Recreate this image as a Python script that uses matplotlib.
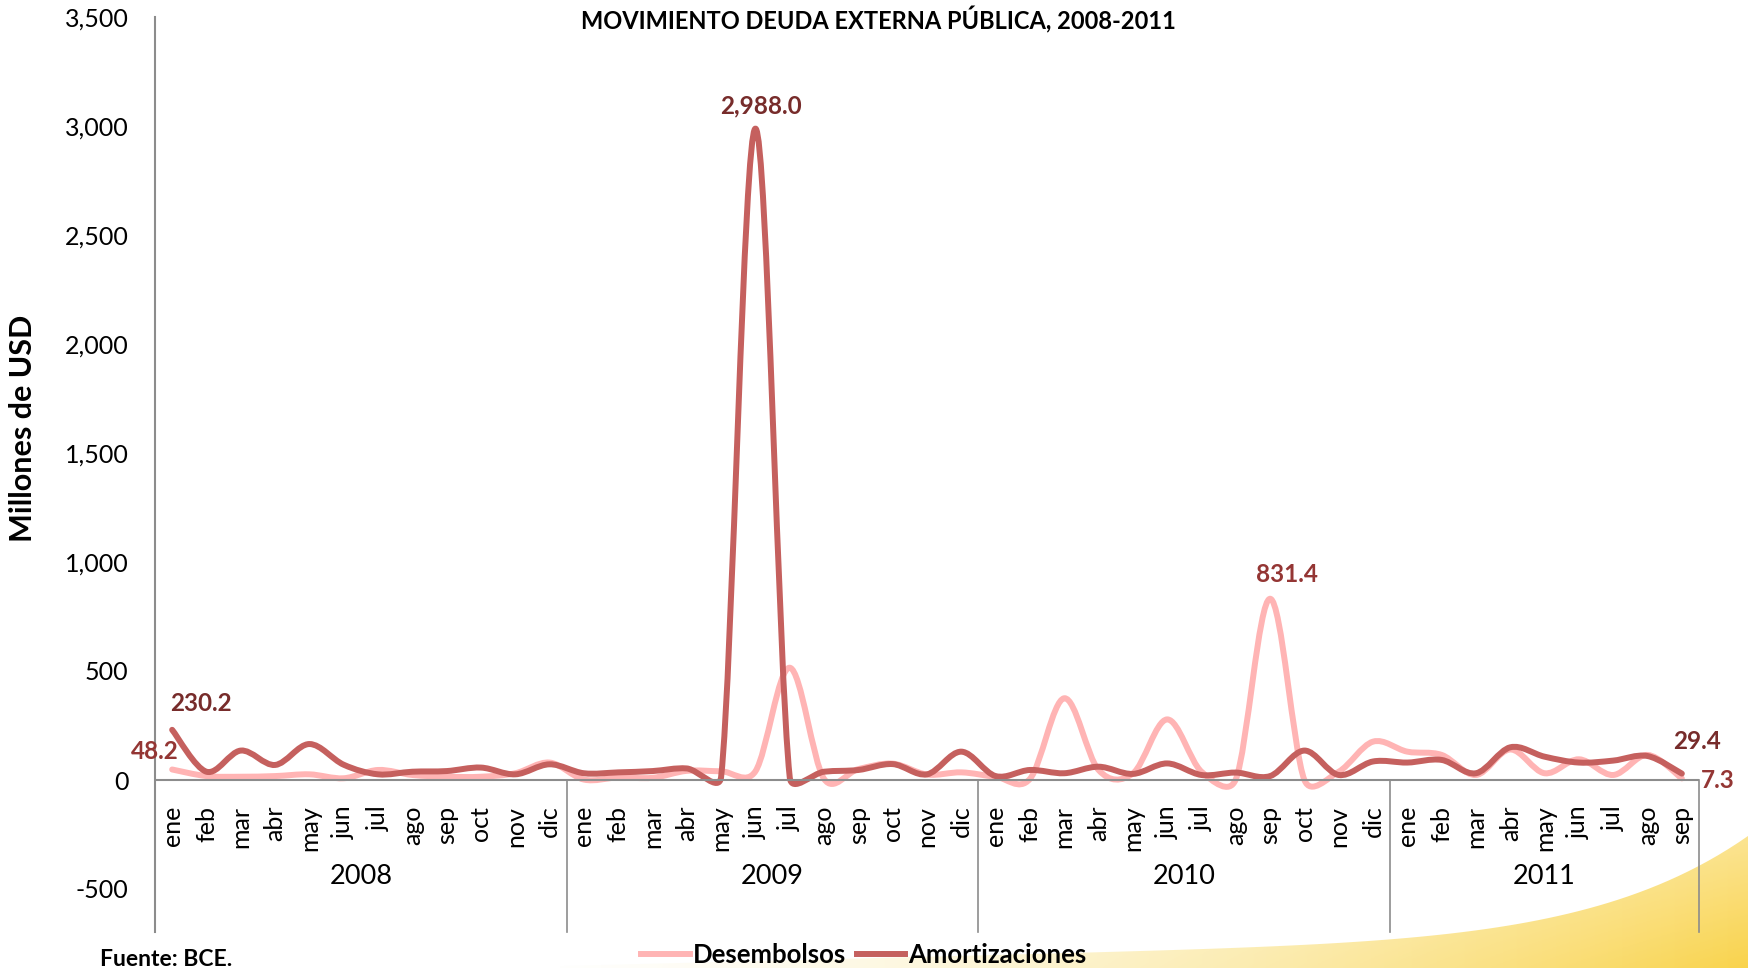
import numpy as np
import matplotlib.pyplot as plt
from matplotlib.path import Path
from matplotlib.patches import PathPatch
from matplotlib.lines import Line2D
from matplotlib.ticker import FuncFormatter

plt.rcParams['font.family'] = ['Lato', 'DejaVu Sans']

# --- data (millones de USD, ene 2008 - sep 2011) ---
meses = ['ene', 'feb', 'mar', 'abr', 'may', 'jun', 'jul', 'ago', 'sep', 'oct', 'nov', 'dic']
years = ['2008', '2009', '2010', '2011']
months_per_year = [12, 12, 12, 9]
months = [m for n in months_per_year for m in meses[:n]]

desembolsos = [48.2, 18, 15, 18, 26, 8, 46, 23, 15, 15, 31, 80,
               2, 12, 10, 42, 40, 40, 515, 5, 50, 75, 25, 35,
               15, 5, 375, 46, 30, 278, 38, 3, 831.4, 0, 38, 176,
               130, 115, 23, 140, 31, 95, 23, 115, 7.3]
amortizaciones = [230.2, 38, 135, 69, 165, 70, 26, 38, 41, 57, 26, 72,
                  31, 35, 41, 53, 15, 2988.0, 12, 38, 46, 73, 26, 130,
                  18, 46, 31, 61, 28, 76, 23, 34, 18, 135, 23, 85,
                  80, 92, 31, 150, 107, 80, 89, 110, 29.4]

C_DES = '#FFB4B4'
C_AMO = '#C5605E'
LBL_DES = '#943634'
LBL_AMO = '#772C2B'
GRAY = '#8C8C8C'


def excel_smooth(ax, x, y):
  """Bezier path like Excel's 'smoothed line' (built in screen space)."""
  pts = ax.transData.transform(np.column_stack([x, y]))
  n = len(pts)
  verts = [pts[0]]
  codes = [Path.MOVETO]
  for i in range(n - 1):
    p0, p1 = pts[max(i - 1, 0)], pts[i]
    p2, p3 = pts[i + 1], pts[min(i + 2, n - 1)]
    d02 = np.hypot(*(p2 - p0))
    d12 = np.hypot(*(p2 - p1))
    d13 = np.hypot(*(p3 - p1))
    f0 = min(1 / 6, d12 / (2 * d02)) if d02 > 0 else 0
    f1 = min(1 / 6, d12 / (2 * d13)) if d13 > 0 else 0
    verts += [p1 + (p2 - p0) * f0, p2 - (p3 - p1) * f1, p2]
    codes += [Path.CURVE4] * 3
  verts = ax.transData.inverted().transform(np.array(verts))
  return Path(verts, codes)


fig = plt.figure(figsize=(17.48, 9.68), dpi=100)
fig.patch.set_facecolor('white')

# pale yellow swoosh in the bottom-right corner (decoration)
bg = fig.add_axes([0, 0, 1, 1], zorder=-5)
bg.set_xlim(0, 1748)
bg.set_ylim(968, 0)
bg.axis('off')
gx = np.linspace(0, 1, 500)
gy = np.linspace(0, 1, 80)
GX, GY = np.meshgrid(gx, gy)
rgba = np.ones((80, 500, 4))
rgba[..., 0] = 0.98
rgba[..., 1] = 0.83 + 0.13 * (1 - GX)
rgba[..., 2] = 0.30 + 0.52 * (1 - GX)
rgba[..., 3] = (np.clip((GX - 0.30) / 0.70, 0, 1) ** 1.1) * (0.6 + 0.4 * GY)
im = bg.imshow(rgba, extent=[0, 1748, 968, 830], aspect='auto', zorder=0)
t = np.linspace(0, 1, 120)
edge_x = 560 + 1188 * t
edge_y = 966 - 30 * t - 100 * t ** 8
sw = np.vstack([np.column_stack([edge_x, edge_y]), [(1748, 968), (560, 968)]])
clip = PathPatch(Path(sw), transform=bg.transData, facecolor='none', edgecolor='none')
bg.add_patch(clip)
im.set_clip_path(clip)

ax = fig.add_axes([155 / 1748, 1 - 889 / 968, 1544 / 1748, 872 / 968])
ax.set_facecolor('none')
x = np.arange(len(months))
ax.set_xlim(-0.5, len(months) - 0.5)
ax.set_ylim(-500, 3500)
for s in ax.spines.values():
  s.set_visible(False)

ax.set_yticks(np.arange(-500, 3501, 500))
ax.yaxis.set_major_formatter(FuncFormatter(lambda v, p: f'{v:,.0f}'))
ax.tick_params(axis='y', length=0, pad=19, labelsize=18)
ax.set_xticks([])

# month labels hang from the zero line
for i, m in enumerate(months):
  ax.annotate(m, (i, 0), xytext=(0, -18.5), textcoords='offset points', rotation=90,
              ha='center', va='top', fontsize=18)

# axis lines / category box
xt = ax.get_xaxis_transform()
y_low = -43 / 872
y_zero = 500 / 4000
ax.plot([-0.5, -0.5], [y_low, 1], transform=xt, color=GRAY, lw=1.5, clip_on=False)
ax.axhline(0, color=GRAY, lw=1.5)
edges = np.cumsum([0] + months_per_year) - 0.5
for e in edges[1:]:
  ax.plot([e, e], [y_low, y_zero], transform=xt, color=GRAY, lw=1.2, clip_on=False)
for yr, a, b in zip(years, edges[:-1], edges[1:]):
  ax.text((a + b) / 2, 12 / 872, yr, transform=xt, ha='center', va='center', fontsize=19.5)

ax.add_patch(PathPatch(excel_smooth(ax, x, desembolsos), facecolor='none',
                       edgecolor=C_DES, lw=4.3, capstyle='round', joinstyle='round'))
ax.add_patch(PathPatch(excel_smooth(ax, x, amortizaciones), facecolor='none',
                       edgecolor=C_AMO, lw=4.3, capstyle='round', joinstyle='round'))

# data labels
kw = dict(textcoords='offset points', ha='center', va='center', fontsize=17.5, fontweight='bold')
last = len(months) - 1
peak_a = int(np.argmax(amortizaciones))
peak_d = int(np.argmax(desembolsos))
ax.annotate(f'{amortizaciones[0]:,.1f}', (0, amortizaciones[0]), xytext=(21, 19), color=LBL_AMO, **kw)
ax.annotate(f'{desembolsos[0]:,.1f}', (0, desembolsos[0]), xytext=(-12.5, 12.6), color=LBL_DES, **kw)
ax.annotate(f'{amortizaciones[peak_a]:,.1f}', (peak_a, amortizaciones[peak_a]), xytext=(4.3, 16.3), color=LBL_AMO, **kw)
ax.annotate(f'{desembolsos[peak_d]:,.1f}', (peak_d, desembolsos[peak_d]), xytext=(12.2, 17.3), color=LBL_DES, **kw)
ax.annotate(f'{amortizaciones[last]:,.1f}', (last, amortizaciones[last]), xytext=(10.8, 22.8), color=LBL_AMO, **kw)
ax.annotate(f'{desembolsos[last]:,.1f}', (last, desembolsos[last]), xytext=(26, -1.2), color=LBL_DES, **kw)

fig.text(878 / 1748, 1 - 20 / 968, 'MOVIMIENTO DEUDA EXTERNA PÚBLICA, 2008-2011',
         ha='center', va='center', fontsize=17, fontweight='bold')
fig.text(23 / 1748, 1 - 428 / 968, 'Millones de USD', rotation=90,
         ha='center', va='center', fontsize=22, fontweight='bold')
fig.text(100 / 1748, 1 - 959 / 968, 'Fuente: BCE.', ha='left', va='center',
         fontsize=16.5, fontweight='bold')

handles = [Line2D([], [], color=C_DES, lw=4.3), Line2D([], [], color=C_AMO, lw=4.3)]
fig.legend(handles, ['Desembolsos', 'Amortizaciones'], loc='center',
           bbox_to_anchor=(864 / 1748, 1 - 955 / 968), ncol=2, frameon=False,
           prop={'weight': 'bold', 'size': 18.5}, handlelength=1.9,
           handletextpad=0.12, columnspacing=0.4, borderpad=0)

fig.savefig('out.png', dpi=100)
